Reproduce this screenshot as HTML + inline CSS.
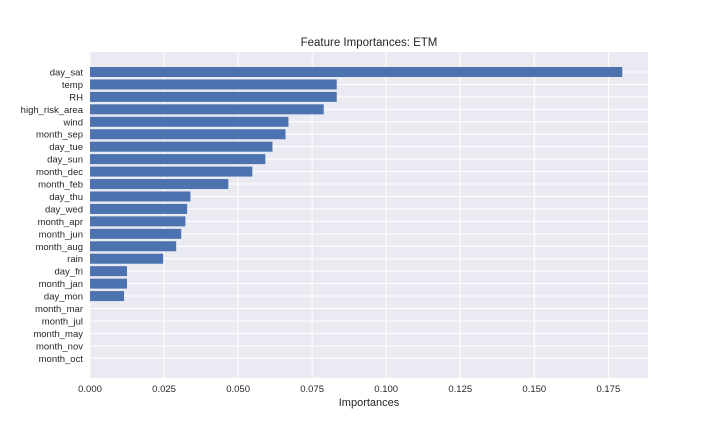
<!DOCTYPE html>
<html><head><meta charset="utf-8"><style>
body{margin:0;background:#fff;}
svg text{font-family:"Liberation Sans",sans-serif;fill:#262626;}
</style></head><body>
<svg width="720" height="432" xmlns="http://www.w3.org/2000/svg">
<rect x="90" y="52" width="558" height="326" fill="#eaeaf2"/>
<g id="grid"></g><g id="bars"></g><g id="yt"></g><g id="xt"></g>
<text x="369" y="46" text-anchor="middle" font-size="11.5">Feature Importances: ETM</text>
<text x="369" y="406" text-anchor="middle" font-size="11">Importances</text>
</svg>
<script>
const categories=["day_sat","temp","RH","high_risk_area","wind","month_sep","day_tue","day_sun","month_dec","month_feb","day_thu","day_wed","month_apr","month_jun","month_aug","rain","day_fri","month_jan","day_mon","month_mar","month_jul","month_may","month_nov","month_oct"];
const values=[0.1797,0.0833,0.0833,0.0789,0.067,0.066,0.0616,0.0592,0.0548,0.0467,0.0339,0.0328,0.0322,0.0308,0.0291,0.0247,0.0125,0.0125,0.0115,0,0,0,0,0];
const xTicks=[0,0.025,0.05,0.075,0.1,0.125,0.15,0.175];
const xTickLabels=["0.000","0.025","0.050","0.075","0.100","0.125","0.150","0.175"];
const NS="http://www.w3.org/2000/svg";
const x=v=>90+v*2962;
const y=i=>72+i*(358.3-72)/(categories.length-1);
const g=id=>document.getElementById(id);
function mk(t,a,p){const e=document.createElementNS(NS,t);for(const k in a)e.setAttribute(k,a[k]);p.appendChild(e);return e;}
xTicks.forEach((t,i)=>{
 const l=mk('line',{x1:x(t),x2:x(t),y1:52,y2:378,stroke:'#fff','stroke-width':1},g('grid'));
 
 
 const tx=mk('text',{x:x(t),y:392,'text-anchor':'middle','font-size':'9.5'},g('xt'));
 tx.textContent=xTickLabels[i];
 
 
});
categories.forEach((c,i)=>{
 const l=mk('line',{x1:90,x2:648,y1:y(i),y2:y(i),stroke:'#fff','stroke-width':1},g('grid'));
 
 
 const b=mk('rect',{x:90,y:y(i)-5,width:Math.max(0,x(values[i])-90),height:10,fill:'#4c72b0'},g('bars'));
 
 
 const tx=mk('text',{x:83,y:y(i)+3.5,'text-anchor':'end','font-size':'9.5'},g('yt'));
 tx.textContent=c;
 
 
});
</script>
</body></html>
